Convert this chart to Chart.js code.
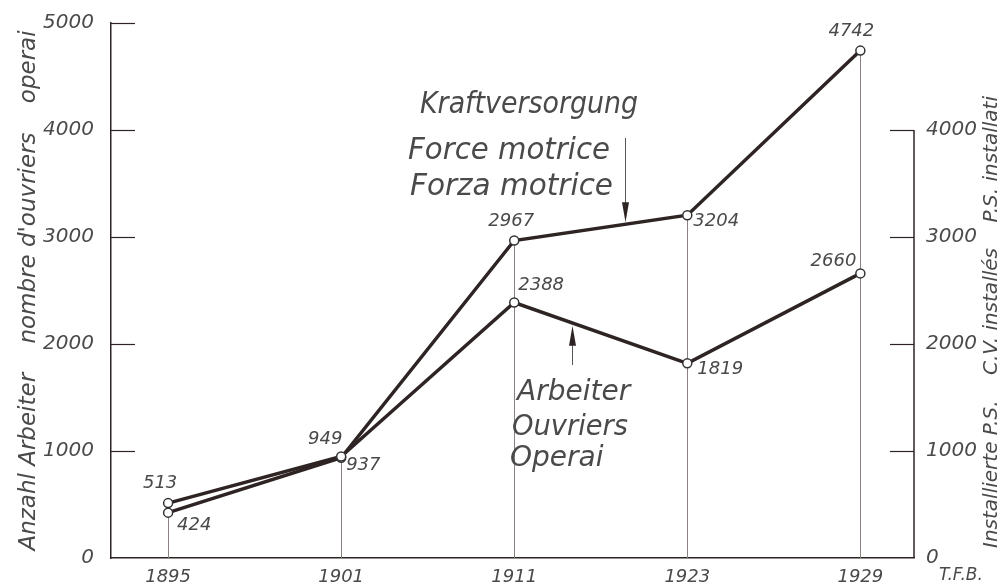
<!DOCTYPE html>
<html>
<head>
<meta charset="utf-8">
<script src="https://cdn.jsdelivr.net/npm/chart.js@4.4.0/dist/chart.umd.min.js"></script>
<style>
  html, body { margin: 0; padding: 0; background: #fff; }
  #wrap { width: 1004px; height: 587px; }
</style>
</head>
<body>
<div id="wrap"><canvas id="chart" width="1004" height="587"></canvas></div>
<script>
// --- Daten ---
const years = ['1895', '1901', '1911', '1923', '1929'];
const workers = [513, 949, 2388, 1819, 2660];   // Arbeiter / Ouvriers / Operai
const power = [424, 937, 2967, 3204, 4742];     // Kraftversorgung (P.S. installati)
const leftTicks = [0, 1000, 2000, 3000, 4000, 5000];
const rightTicks = [0, 1000, 2000, 3000, 4000];

const ink = '#2e2424';
const textInk = '#4a4a4a';
const FONT = "'DejaVu Sans'";

// label placement per point: [dx, dy, align]
const workerLabelPos = [[-8, -20, 'center'], [-16, -17, 'center'], [4, -17, 'left'], [10, 6, 'left'], [-4, -12, 'right']];
const powerLabelPos = [[9, 13, 'left'], [5, 8, 'left'], [-3, -19, 'center'], [6, 6, 'left'], [-9, -19, 'center']];

function arrow(ctx, x, y0, y1) {
  // Linie von y0 nach y1, Spitze bei y1
  const dir = y1 > y0 ? 1 : -1;
  ctx.beginPath();
  ctx.moveTo(x, y0);
  ctx.lineTo(x, y1 - dir * 16);
  ctx.stroke();
  ctx.beginPath();
  ctx.moveTo(x, y1);
  ctx.lineTo(x - 3.5, y1 - dir * 20);
  ctx.lineTo(x + 3.5, y1 - dir * 20);
  ctx.closePath();
  ctx.fill();
}

// y on a dataset line at fractional index
function lineY(chart, dsIndex, idx) {
  const pts = chart.getDatasetMeta(dsIndex).data;
  const i = Math.floor(idx);
  const t = idx - i;
  return pts[i].y + (pts[i + 1].y - pts[i].y) * t;
}

const drafting = {
  id: 'drafting',
  beforeDatasetsDraw(chart) {
    const { ctx, scales: { x, y } } = chart;
    ctx.save();
    ctx.strokeStyle = '#8a8080';
    ctx.lineWidth = 1;
    years.forEach((yr, i) => {
      const px = Math.round(x.getPixelForValue(i)) + 0.5;
      const top = y.getPixelForValue(Math.max(workers[i], power[i]));
      ctx.beginPath();
      ctx.moveTo(px, top);
      ctx.lineTo(px, y.bottom);
      ctx.stroke();
    });
    ctx.restore();
  },
  afterDatasetsDraw(chart) {
    const { ctx, scales: { x, y, y2 } } = chart;
    ctx.save();

    // Achsen-Striche
    ctx.strokeStyle = ink;
    ctx.lineWidth = 1.2;
    leftTicks.forEach(v => {
      if (v === 0) return;
      const py = Math.round(y.getPixelForValue(v)) + 0.5;
      ctx.beginPath();
      ctx.moveTo(y.right, py);
      ctx.lineTo(y.right + 24, py);
      ctx.stroke();
    });
    const rx = y2.left;
    ctx.lineWidth = 1.5;
    ctx.beginPath();
    ctx.moveTo(rx, y2.getPixelForValue(rightTicks[rightTicks.length - 1]));
    ctx.lineTo(rx, y2.getPixelForValue(0));
    ctx.stroke();
    ctx.lineWidth = 1.2;
    rightTicks.forEach(v => {
      if (v === 0) return;
      const py = Math.round(y2.getPixelForValue(v)) + 0.5;
      ctx.beginPath();
      ctx.moveTo(rx - 24, py);
      ctx.lineTo(rx, py);
      ctx.stroke();
    });

    // Werte an den Punkten
    ctx.fillStyle = textInk;
    ctx.font = `italic 18px ${FONT}`;
    ctx.textBaseline = 'middle';
    const labelSet = (dsIndex, values, pos) => {
      const pts = chart.getDatasetMeta(dsIndex).data;
      values.forEach((v, i) => {
        const [dx, dy, align] = pos[i];
        ctx.textAlign = align;
        ctx.fillText(String(v), pts[i].x + dx, pts[i].y + dy);
      });
    };
    labelSet(0, workers, workerLabelPos);
    labelSet(1, power, powerLabelPos);

    // Beschriftung Kraftversorgung
    ctx.font = `italic 30px ${FONT}`;
    ctx.textAlign = 'left';
    ctx.textBaseline = 'alphabetic';
    ctx.fillText('Kraftversorgung', 420, 113, 218);
    ctx.fillText('Force motrice', 408, 159, 202);
    ctx.fillText('Forza motrice', 410, 195, 203);

    // Beschriftung Arbeiter
    ctx.font = `italic 28px ${FONT}`;
    ctx.fillText('Arbeiter', 517, 400, 115);
    ctx.fillText('Ouvriers', 512, 435, 116);
    ctx.fillText('Operai', 510, 466, 100);

    // Pfeile
    ctx.strokeStyle = '#555';
    ctx.fillStyle = ink;
    ctx.lineWidth = 1;
    const kIdx = x.getValueForPixel(625);
    arrow(ctx, 625.5, 138, lineY(chart, 1, kIdx) - 2);
    const aIdx = x.getValueForPixel(572);
    arrow(ctx, 572.5, 365, lineY(chart, 0, aIdx) + 3);

    // rechte Achsenbeschriftung
    ctx.fillStyle = textInk;
    ctx.font = `italic 20px ${FONT}`;
    ctx.textAlign = 'center';
    ctx.textBaseline = 'middle';
    ctx.save();
    ctx.translate(992, 322);
    ctx.rotate(-Math.PI / 2);
    ctx.fillText('Installierte P.S.    C.V. installés    P.S. installati', 0, 0);
    ctx.restore();

    ctx.font = `italic 17px ${FONT}`;
    ctx.fillText('T.F.B.', 961, 576, 50);
    ctx.restore();
  }
};

const ctx = document.getElementById('chart').getContext('2d');
Chart.defaults.font.family = FONT;
Chart.defaults.color = textInk;

new Chart(ctx, {
  type: 'line',
  data: {
    datasets: [
      {
        label: 'Arbeiter',
        data: workers.map((v, i) => ({ x: i, y: v })),
        yAxisID: 'y'
      },
      {
        label: 'Kraftversorgung',
        data: power.map((v, i) => ({ x: i, y: v })),
        yAxisID: 'y2'
      }
    ]
  },
  options: {
    responsive: false,
    animation: false,
    devicePixelRatio: 1,
    layout: { padding: { top: 23, left: 0, right: 0, bottom: 0 } },
    elements: {
      line: { borderColor: ink, borderWidth: 3.5, tension: 0 },
      point: { radius: 4.5, backgroundColor: '#fff', borderColor: '#333', borderWidth: 1.5, hoverRadius: 4.5 }
    },
    plugins: {
      legend: { display: false },
      tooltip: { enabled: false }
    },
    scales: {
      x: {
        type: 'linear',
        min: -0.33,
        max: 4.31,
        afterBuildTicks: s => { s.ticks = years.map((yr, i) => ({ value: i })); },
        afterFit: s => { s.height = 29; },
        grid: { display: false },
        border: { display: true, color: ink, width: 1.5 },
        ticks: {
          callback: v => years[v],
          font: { size: 18, style: 'italic' },
          color: textInk,
          padding: 1,
          maxRotation: 0
        }
      },
      y: {
        position: 'left',
        min: 0,
        max: 5000,
        afterBuildTicks: s => { s.ticks = leftTicks.map(v => ({ value: v })); },
        afterFit: s => { s.width = 111; },
        grid: { display: false },
        border: { display: true, color: ink, width: 1.5 },
        ticks: { callback: v => String(v), font: { size: 20, style: 'italic' }, color: textInk, padding: 9 },
        title: {
          display: true,
          text: "Anzahl Arbeiter    nombre d'ouvriers    operai",
          font: { size: 23, style: 'italic' },
          color: textInk,
          padding: { top: 15, bottom: 0 }
        }
      },
      y2: {
        position: 'right',
        min: 0,
        max: 5000,
        afterBuildTicks: s => { s.ticks = rightTicks.map(v => ({ value: v })); },
        afterFit: s => { s.width = 90; },
        grid: { display: false },
        border: { display: false },
        ticks: { callback: v => String(v), font: { size: 20, style: 'italic' }, color: textInk, padding: 4 }
      }
    }
  },
  plugins: [drafting]
});
</script>
</body>
</html>
